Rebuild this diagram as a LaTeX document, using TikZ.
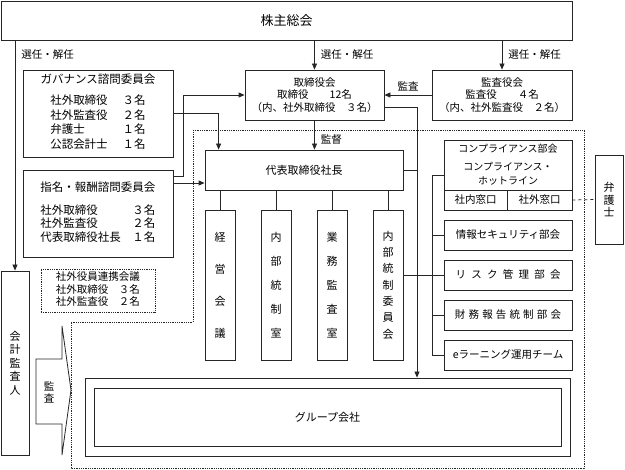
\documentclass[tikz,border=0pt]{standalone}
\usepackage{fontspec}
\setmainfont{Noto Sans CJK JP}
\newfontfamily\jpwide[LetterSpace=50]{Noto Sans CJK JP}
\newfontfamily\jpsemi[LetterSpace=30]{Noto Sans CJK JP}
\usepackage{tikz}
\usetikzlibrary{arrows.meta}
\usetikzlibrary{positioning}
\tikzset{
	bx/.style={draw=black!85, line width=0.8pt, inner sep=0pt, align=center, font=\fontsize{10.5}{12.5}\selectfont},
	dbx/.style={bx, densely dotted},
	tate/.style={bx, font=\fontsize{11}{#1}\selectfont},
	ln/.style={draw=black!85, line width=0.8pt},
	arr/.style={ln, -{Triangle[length=6pt,width=5pt]}},
	lbl/.style={font=\fontsize{10.5}{12}\selectfont, inner sep=1pt},
}

\begin{document}
\begin{tikzpicture}[x=1pt,y=-1pt]
	\useasboundingbox (0,0) rectangle (625,470);
	% top row
	\node[bx, minimum width=571pt, minimum height=39pt, font=\fontsize{13}{15}\selectfont] (soukai) at (286.5,20.5) {株主総会};
	\node[bx, minimum width=139pt, minimum height=50pt] (torikai) at (314.5,95) {取締役会\\取締役　　12名\\（内、社外取締役　３名）};
	\node[bx, minimum width=140pt, minimum height=50pt] (kansakai) at (502,95) {監査役会\\監査役　　４名\\（内、社外監査役　２名）};
	% committees on the left
	\node[bx, minimum width=150pt, minimum height=87pt, font=\fontsize{11.5}{14.5}\selectfont] (gov) at (98,113.5) {ガバナンス諮問委員会\\[6.5pt]\begin{tabular}[t]{@{}l@{\hspace{15pt}}l@{}}社外取締役&３名\\社外監査役&２名\\弁護士&１名\\公認会計士&１名\end{tabular}};
	\node[bx, minimum width=150pt, minimum height=87pt, font=\fontsize{11.5}{13}\selectfont] (shimei) at (98,213.5) {\begin{tabular}{@{}l@{}r@{}}\multicolumn{2}{@{}l@{}}{指名・報酬諮問委員会}\\[9pt]社外取締役&３名\\社外監査役&２名\\代表取締役社長&１名\end{tabular}};
	\node[dbx, minimum width=114pt, minimum height=43pt] (renkei) at (98,290.5) {\begin{tabular}{@{}l@{}r@{}}\multicolumn{2}{@{}l@{}}{社外役員連携会議}\\社外取締役&３名\\社外監査役&２名\end{tabular}};
	\node[tate=13.5, minimum width=28pt, minimum height=184pt] (kaikei) at (15,363) {会\\計\\監\\査\\人};
	% president and the four boxes
	\node[bx, minimum width=198pt, minimum height=40pt, font=\fontsize{11}{13}\selectfont] (daihyo) at (304,170) {代表取締役社長};
	\node[tate=32, minimum width=30pt, minimum height=150pt] (keiei) at (220,285) {経\\営\\会\\議};
	\node[tate=24, minimum width=30pt, minimum height=150pt] (naibu) at (276,285) {内\\部\\統\\制\\室};
	\node[tate=24, minimum width=30pt, minimum height=150pt] (gyomu) at (332,285) {業\\務\\監\\査\\室};
	\node[tate=16.3, minimum width=30pt, minimum height=150pt] (iinkai) at (388,285) {内\\部\\統\\制\\委\\員\\会};
	% sub-committees on the right
	\node[bx, minimum width=128pt, minimum height=50pt, font=\fontsize{10}{14}\selectfont] (comp) at (508,165) {コンプライアンス部会\\[4pt]コンプライアンス・\\ホットライン};
	\node[bx, minimum width=63pt, minimum height=20pt] (shanai) at (475.5,200) {社内窓口};
	\node[bx, minimum width=65pt, minimum height=20pt] (shagai) at (539.5,200) {社外窓口};
	\node[bx, minimum width=128pt, minimum height=30pt] (joho) at (508,235) {情報セキュリティ部会};
	\node[bx, minimum width=128pt, minimum height=30pt, font=\fontsize{10.5}{12}\jpwide] (risk) at (508,275) {リスク管理部会};
	\node[bx, minimum width=128pt, minimum height=30pt, font=\fontsize{10.5}{12}\jpsemi] (zaimu) at (508,315) {財務報告統制部会};
	\node[bx, minimum width=128pt, minimum height=30pt] (elearn) at (508,355) {eラーニング運用チーム};
	\node[tate=12.5, minimum width=28pt, minimum height=89pt] (bengo) at (609,199.5) {弁\\護\\士};
	% group
	\node[bx, minimum width=485pt, minimum height=78pt] (group) at (327.5,417) {};
	\node[bx, minimum width=467pt, minimum height=58pt, font=\fontsize{11}{13}\selectfont] (groupin) at (327.5,417) {グループ会社};
	% audit arrow and dotted area
	\draw[ln] (36,359) -- (62,359) -- (62,326) -- (71,390) -- (62,455) -- (62,424) -- (36,424) -- cycle;
	\node[align=center, font=\fontsize{10.5}{12}\selectfont] (kansa) at (49,392) {監\\査};
	\draw[ln, densely dotted] (193,130) -- (584,130) -- (584,468) -- (71,468) -- (71,322) -- (193,322) -- cycle;
	% connectors
	\draw[arr] (soukai.south -| kaikei.north) -- (kaikei.north) node[lbl, pos=0.06, right=5pt] {選任・解任};
	\draw[arr] (soukai.south -| torikai.north) -- (torikai.north) node[lbl, midway, right=5pt] {選任・解任};
	\draw[arr] (soukai.south -| kansakai.north) -- (kansakai.north) node[lbl, midway, right=5pt] {選任・解任};
	\draw[arr] (kansakai.west) -- (torikai.east) node[lbl, midway, above=2pt] {監査};
	\draw[arr] (torikai.south) -- (torikai.south |- daihyo.north) node[lbl, pos=0.65, right=5pt] {監督};
	\draw[arr] (gov.east) -| ([xshift=14pt]daihyo.north west);
	\draw[arr] ([yshift=37.5pt]shimei.east) -- ++(10,0) |- (torikai.west);
	\draw[arr] ([yshift=30.5pt]shimei.east) -- ([yshift=-13pt]daihyo.west);
	\draw[arr] ([yshift=-12pt]torikai.east) -| ([xshift=89.5pt]group.north);
	\draw[ln] (daihyo.east) -- ++(14,0);
	\foreach \b in {keiei,naibu,gyomu,iinkai}
		\draw[ln] (daihyo.south -| \b.north) -- (\b.north);
	\draw[ln] ([yshift=10pt]iinkai.east) -- (risk.west);
	\draw[ln] ([yshift=-10pt]comp.west) -- ++(-11,0) |- (elearn.west);
	\foreach \c in {joho,zaimu}
		\draw[ln] (\c.west) -- ++(-11,0);
	\draw[ln, dashed] (shagai.east) -- (bengo.west);
\end{tikzpicture}
\end{document}
